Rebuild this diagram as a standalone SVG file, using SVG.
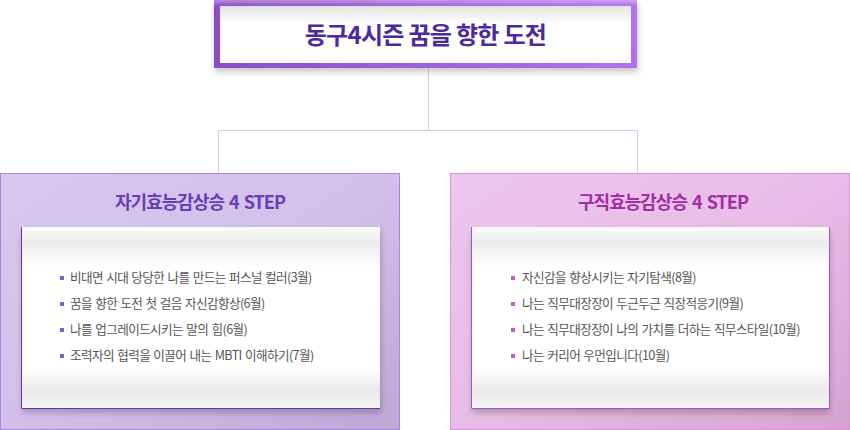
<svg xmlns="http://www.w3.org/2000/svg" width="850" height="430" viewBox="0 0 850 430">
<defs>
<style>
.kr{font-family:"Noto Sans CJK KR","Noto Sans",sans-serif;}
.title{font-size:24px;font-weight:700;fill:#4b2a9c;letter-spacing:-0.7px;}
.sub{font-size:18px;font-weight:700;letter-spacing:-1px;word-spacing:2px;}
.item{font-size:12.6px;fill:#555;letter-spacing:-0.6px;word-spacing:1px;}
.conn{fill:none;stroke:#e0c4e6;stroke-width:1;}
</style>
<linearGradient id="topFrame" x1="0" y1="0" x2="1" y2="0">
<stop offset="0" stop-color="#8a4ec6"/>
<stop offset="1" stop-color="#b272f0"/>
</linearGradient>
<linearGradient id="topHi" x1="0" y1="0" x2="0" y2="1">
<stop offset="0" stop-color="#ffffff" stop-opacity="0.35"/>
<stop offset="1" stop-color="#ffffff" stop-opacity="0"/>
</linearGradient>
<linearGradient id="innerTop" x1="0" y1="0" x2="0" y2="1">
<stop offset="0" stop-color="#e2e2e2"/>
<stop offset="0.3" stop-color="#ffffff"/>
<stop offset="1" stop-color="#ffffff"/>
</linearGradient>
<linearGradient id="leftFill" x1="0" y1="0" x2="1" y2="1">
<stop offset="0" stop-color="#d6c8ee"/>
<stop offset="0.5" stop-color="#d2c0ea"/>
<stop offset="1" stop-color="#bea6d6"/>
</linearGradient>
<linearGradient id="rightFill" x1="0" y1="0" x2="1" y2="1">
<stop offset="0" stop-color="#ecc6ec"/>
<stop offset="0.5" stop-color="#e8bce6"/>
<stop offset="1" stop-color="#d4a4d0"/>
</linearGradient>
<linearGradient id="panel" x1="0" y1="0" x2="0" y2="1">
<stop offset="0" stop-color="#fbfbfb"/>
<stop offset="0.08" stop-color="#ececec"/>
<stop offset="0.22" stop-color="#ffffff"/>
<stop offset="0.78" stop-color="#ffffff"/>
<stop offset="0.9" stop-color="#e9e9e9"/>
<stop offset="1" stop-color="#f6f6f6"/>
</linearGradient>
<filter id="sh" x="-10%" y="-20%" width="120%" height="150%">
<feGaussianBlur in="SourceAlpha" stdDeviation="3"/>
<feOffset dx="1" dy="4"/>
<feComponentTransfer><feFuncA type="linear" slope="0.22"/></feComponentTransfer>
<feMerge><feMergeNode/><feMergeNode in="SourceGraphic"/></feMerge>
</filter>
</defs>
<rect width="850" height="430" fill="#ffffff"/>

<g id="connectors">
<path class="conn" d="M428.5 68 V130.5 M218.5 173 V130.5 H637.5 V173"/>
</g>

<g id="root">
<rect x="214" y="0" width="423" height="68" fill="url(#topFrame)" filter="url(#sh)"/>
<rect x="214" y="0" width="423" height="6" fill="url(#topHi)"/>
<rect x="220" y="6" width="411" height="57" fill="url(#innerTop)"/>
<text class="kr title" x="425.5" y="44" text-anchor="middle">동구4시즌 꿈을 향한 도전</text>
</g>

<g id="left">
<rect x="0.5" y="173.5" width="399" height="256" fill="url(#leftFill)" stroke="#a888dc"/>
<rect x="21" y="227" width="359" height="182" fill="url(#panel)" filter="url(#sh)"/>
<path d="M21.5 227 V408.5 H380" fill="none" stroke="#5e3eae" stroke-width="1"/>
<text class="kr sub" x="200" y="209" text-anchor="middle" fill="#6a3cb8">자기효능감상승 4 STEP</text>
<g fill="#8a5ad2">
<rect x="60" y="276" width="4" height="4"/>
<rect x="60" y="302" width="4" height="4"/>
<rect x="60" y="328" width="4" height="4"/>
<rect x="60" y="354" width="4" height="4"/>
</g>
<text class="kr item" x="70" y="282">비대면 시대 당당한 나를 만드는 퍼스널 컬러(3월)</text>
<text class="kr item" x="70" y="308">꿈을 향한 도전 첫 걸음 자신감향상(6월)</text>
<text class="kr item" x="70" y="334">나를 업그레이드시키는 말의 힘(6월)</text>
<text class="kr item" x="70" y="360">조력자의 협력을 이끌어 내는 MBTI 이해하기(7월)</text>
</g>

<g id="right">
<rect x="450.5" y="173.5" width="399" height="256" fill="url(#rightFill)" stroke="#dc94dc"/>
<rect x="471" y="227" width="358" height="182" fill="url(#panel)" filter="url(#sh)"/>
<path d="M471.5 227 V408.5 H829 M829.5 227 V409" fill="none" stroke="#9a58c8" stroke-width="1"/>
<text class="kr sub" x="663" y="209" text-anchor="middle" fill="#a22ea6">구직효능감상승 4 STEP</text>
<g fill="#cc55cc">
<rect x="511" y="276" width="4" height="4"/>
<rect x="511" y="302" width="4" height="4"/>
<rect x="511" y="328" width="4" height="4"/>
<rect x="511" y="354" width="4" height="4"/>
</g>
<text class="kr item" x="522" y="282">자신감을 향상시키는 자기탐색(8월)</text>
<text class="kr item" x="522" y="308">나는 직무대장장이 두근두근 직장적응기(9월)</text>
<text class="kr item" x="522" y="334">나는 직무대장장이 나의 가치를 더하는 직무스타일(10월)</text>
<text class="kr item" x="522" y="360">나는 커리어 우먼입니다(10월)</text>
</g>
</svg>
